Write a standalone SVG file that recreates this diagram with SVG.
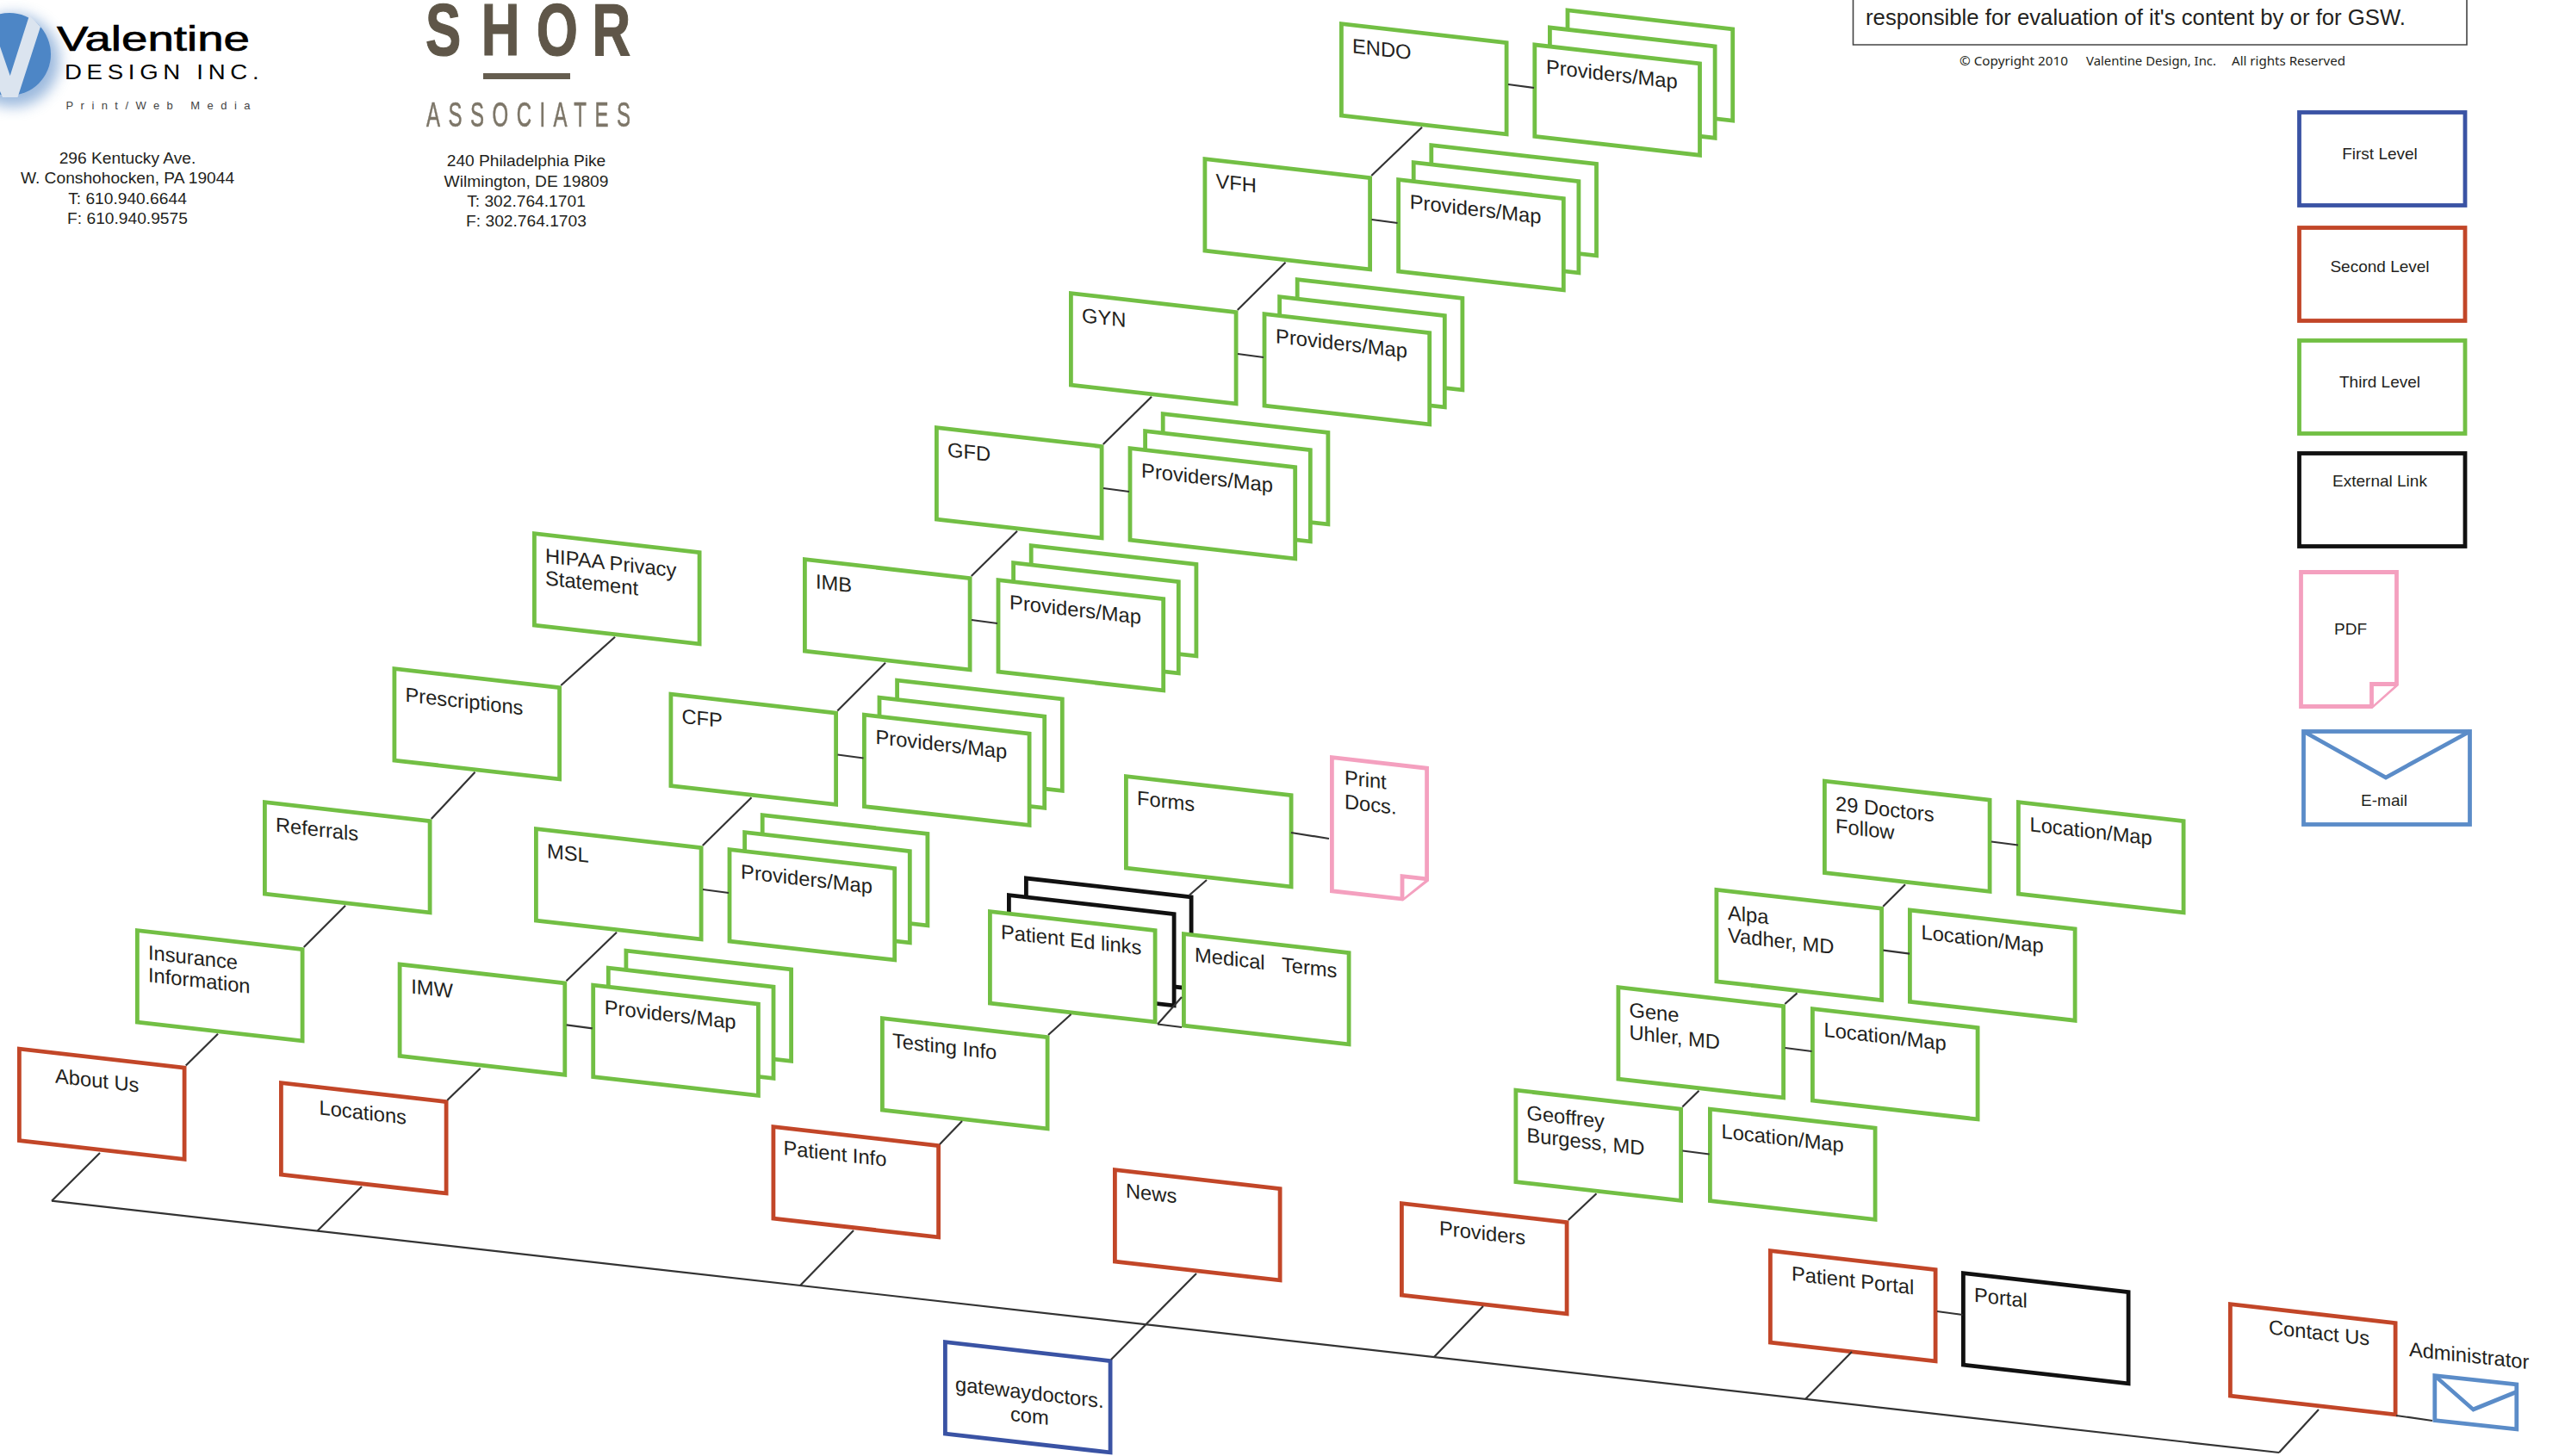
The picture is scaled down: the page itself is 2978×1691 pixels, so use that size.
<svg xmlns="http://www.w3.org/2000/svg" width="2978" height="1691" viewBox="0 0 2978 1691">
<style>
text{font-family:"Liberation Sans",Arial,sans-serif;fill:#231f20}
.t{font-size:23.7px}
.s{font-size:19px;text-anchor:middle}
.a{font-size:19.2px;text-anchor:middle}
.c{font-family:"Noto Sans","Liberation Sans",sans-serif;font-size:15px}
.g{stroke:#72bf44}.r{stroke:#c24628}.b{stroke:#3a53a4}.k{stroke:#111}.p{stroke:#f4a0bf}.e{stroke:#5b8cc8}
.sh{fill:#fff;stroke-width:4.8;stroke-miterlimit:10}
#connectors line{stroke:#333;stroke-width:2.2}
</style>
<defs>
<rect id="box" class="sh" x="2.4" y="2.4" width="191.7" height="106.4"/>
<g id="stack" class="g"><use href="#box" x="38.2" y="-44.4"/><use href="#box" x="17.6" y="-22"/><use href="#box"/></g>
<filter id="soft" x="-40%" y="-40%" width="180%" height="180%"><feGaussianBlur stdDeviation="8"/></filter>
<filter id="blur"><feGaussianBlur stdDeviation=".7"/></filter>
</defs>
<rect width="2978" height="1691" fill="#fff"/>

<g id="logo-valentine">
<circle cx="15" cy="70" r="54" fill="#5b8cc8" opacity=".6" filter="url(#soft)"/>
<circle cx="11" cy="63" r="48" fill="#4d86c6"/>
<polygon points="34,18 47,31 20.5,113 3,113 0,106 0,54 11.7,88" fill="#dbe4ef"/>
<text x="66" y="59" font-size="41" textLength="224" lengthAdjust="spacingAndGlyphs" stroke="#000" stroke-width=".7" style="fill:#000">Valentine</text>
<text transform="scale(1.2,1)" x="62.5" y="92" font-size="23" textLength="188" style="fill:#000">DESIGN INC.</text>
<text x="76.5" y="127" font-size="13" textLength="214" style="fill:#444">Print/Web  Media</text>
<text class="a" x="148" y="190">296 Kentucky Ave.</text>
<text class="a" x="148" y="213">W. Conshohocken, PA 19044</text>
<text class="a" x="148" y="237">T: 610.940.6644</text>
<text class="a" x="148" y="260">F: 610.940.9575</text>
</g>

<g id="logo-shor">
<text transform="scale(.72,1)" x="686 776 865 955" y="64" font-size="86" font-weight="bold" stroke="#5e5748" stroke-width="1.2" filter="url(#blur)" style="fill:#5e5748">SHOR</text>
<rect x="561" y="85" width="101" height="7" fill="#655d4f"/>
<text transform="scale(.6,1)" x="825" y="147" font-size="40" textLength="395" stroke="#7d7668" stroke-width=".6" filter="url(#blur)" style="fill:#7d7668">ASSOCIATES</text>
<text class="a" x="611" y="193">240 Philadelphia Pike</text>
<text class="a" x="611" y="217">Wilmington, DE 19809</text>
<text class="a" x="611" y="240">T: 302.764.1701</text>
<text class="a" x="611" y="263">F: 302.764.1703</text>
</g>

<g id="disclaimer">
<path d="M2151.5 -5V52H2864V-5" fill="#fff" stroke="#444" stroke-width="1.6"/>
<text x="2166" y="29" font-size="26" textLength="627" lengthAdjust="spacingAndGlyphs">responsible for evaluation of it's content by or for GSW.</text>
<text class="c" x="2275" y="76" textLength="126" lengthAdjust="spacingAndGlyphs">© Copyright 2010</text>
<text class="c" x="2422" y="76" textLength="151" lengthAdjust="spacingAndGlyphs">Valentine Design, Inc.</text>
<text class="c" x="2591" y="76" textLength="132" lengthAdjust="spacingAndGlyphs">All rights Reserved</text>
</g>

<g id="legend">
<g id="legend-first"><rect class="sh b" x="2669.5" y="130.5" width="192.5" height="108"/><text class="s" x="2763" y="185">First Level</text></g>
<g id="legend-second"><rect class="sh r" x="2669.5" y="264.5" width="192.5" height="108"/><text class="s" x="2763" y="316">Second Level</text></g>
<g id="legend-third"><rect class="sh g" x="2669.5" y="395.5" width="192.5" height="108"/><text class="s" x="2763" y="450">Third Level</text></g>
<g id="legend-external"><rect class="sh k" x="2669.5" y="526.5" width="192.5" height="108"/><text class="s" x="2763" y="565">External Link</text></g>
<g id="legend-pdf"><path class="sh p" d="M2671.5 664.5H2782.5V795L2753.5 820.5H2671.5Z"/><path class="sh p" d="M2753.5 820.5V794.5H2782.5"/><text class="s" x="2729" y="737">PDF</text></g>
<g id="legend-email"><rect class="sh e" x="2674.5" y="849.5" width="193" height="108"/><path d="M2674.5 849.5L2770 903L2867.5 849.5" fill="none" class="e" stroke-width="4.8"/><text class="s" x="2768" y="936">E-mail</text></g>
</g>

<g id="nodes">
<g id="endo" transform="matrix(1,.114,0,1,1555,25)"><use href="#box" class="g"/><text class="t" x="15" y="34.5">ENDO</text></g>
<g id="endo-providers" transform="matrix(1,.114,0,1,1779.4,49.3)"><use href="#stack"/><text class="t" x="15.5" y="34.5">Providers/Map</text></g>
<g id="vfh" transform="matrix(1,.114,0,1,1396.5,182)"><use href="#box" class="g"/><text class="t" x="15" y="34.5">VFH</text></g>
<g id="vfh-providers" transform="matrix(1,.114,0,1,1621.2,206)"><use href="#stack"/><text class="t" x="15.5" y="34.5">Providers/Map</text></g>
<g id="gyn" transform="matrix(1,.114,0,1,1241,338)"><use href="#box" class="g"/><text class="t" x="15" y="34.5">GYN</text></g>
<g id="gyn-providers" transform="matrix(1,.114,0,1,1465.6,362)"><use href="#stack"/><text class="t" x="15.5" y="34.5">Providers/Map</text></g>
<g id="gfd" transform="matrix(1,.114,0,1,1085,494)"><use href="#box" class="g"/><text class="t" x="15" y="34.5">GFD</text></g>
<g id="gfd-providers" transform="matrix(1,.114,0,1,1309.6,518)"><use href="#stack"/><text class="t" x="15.5" y="34.5">Providers/Map</text></g>
<g id="imb" transform="matrix(1,.114,0,1,932,647)"><use href="#box" class="g"/><text class="t" x="15" y="34.5">IMB</text></g>
<g id="imb-providers" transform="matrix(1,.114,0,1,1156.6,671)"><use href="#stack"/><text class="t" x="15.5" y="34.5">Providers/Map</text></g>
<g id="cfp" transform="matrix(1,.114,0,1,776.5,803.5)"><use href="#box" class="g"/><text class="t" x="15" y="34.5">CFP</text></g>
<g id="cfp-providers" transform="matrix(1,.114,0,1,1001,827.5)"><use href="#stack"/><text class="t" x="15.5" y="34.5">Providers/Map</text></g>
<g id="msl" transform="matrix(1,.114,0,1,620,960)"><use href="#box" class="g"/><text class="t" x="15" y="34.5">MSL</text></g>
<g id="msl-providers" transform="matrix(1,.114,0,1,844.6,984)"><use href="#stack"/><text class="t" x="15.5" y="34.5">Providers/Map</text></g>
<g id="imw" transform="matrix(1,.114,0,1,461.7,1117.3)"><use href="#box" class="g"/><text class="t" x="15.5" y="34.5">IMW</text></g>
<g id="imw-providers" transform="matrix(1,.114,0,1,686.3,1141.5)"><use href="#stack"/><text class="t" x="15.5" y="34.5">Providers/Map</text></g>

<g id="hipaa" transform="matrix(1,.114,0,1,618,617)"><use href="#box" class="g"/><text class="t" x="15" y="34.5">HIPAA Privacy<tspan x="15" dy="26">Statement</tspan></text></g>
<g id="prescriptions" transform="matrix(1,.114,0,1,455.5,774)"><use href="#box" class="g"/><text class="t" x="15" y="39">Prescriptions</text></g>
<g id="referrals" transform="matrix(1,.114,0,1,305,929)"><use href="#box" class="g"/><text class="t" x="15" y="35">Referrals</text></g>
<g id="insurance" transform="matrix(1,.114,0,1,157,1078)"><use href="#box" class="g"/><text class="t" x="15" y="34.5">Insurance<tspan x="15" dy="26">Information</tspan></text></g>
<g id="about-us" transform="matrix(1,.114,0,1,20,1215.5)"><use href="#box" class="r"/><text class="t" x="44" y="37">About Us</text></g>
<g id="locations" transform="matrix(1,.114,0,1,324,1255)"><use href="#box" class="r"/><text class="t" x="46.5" y="34">Locations</text></g>

<g id="forms" transform="matrix(1,.114,0,1,1305,899)"><use href="#box" class="g"/><text class="t" x="15" y="34">Forms</text></g>
<g id="print-docs" transform="matrix(1,.114,0,1,1544,877)"><path class="sh p" d="M2.4 2.4H112.6V132L84 157.5H2.4Z"/><path class="sh p" d="M84 157.5V131H112.6"/><text class="t" x="17" y="32">Print<tspan x="17" dy="28">Docs.</tspan></text></g>
<g id="patient-ed" transform="matrix(1,.114,0,1,1147,1056)"><use href="#box" class="k" x="42" y="-43.5"/><use href="#box" class="k" x="22" y="-21.5"/><use href="#box" class="g"/><text class="t" x="15" y="32.5">Patient Ed links</text></g>
<g id="medical-terms" transform="matrix(1,.114,0,1,1372,1082)"><use href="#box" class="g"/><text class="t" x="15" y="33" xml:space="preserve">Medical   Terms</text></g>
<g id="testing-info" transform="matrix(1,.114,0,1,1022,1180)"><use href="#box" class="g"/><text class="t" x="14" y="35">Testing Info</text></g>
<g id="patient-info" transform="matrix(1,.114,0,1,895.5,1306)"><use href="#box" class="r"/><text class="t" x="14" y="33.5">Patient Info</text></g>
<g id="news" transform="matrix(1,.114,0,1,1292,1356)"><use href="#box" class="r"/><text class="t" x="15" y="33">News</text></g>
<g id="gatewaydoctors" transform="matrix(1,.114,0,1,1095,1556)"><use href="#box" class="b"/><text class="t" x="14" y="58">gatewaydoctors.<tspan x="78" dy="27">com</tspan></text></g>

<g id="doctors-follow" transform="matrix(1,.114,0,1,2116,904.5)"><use href="#box" class="g"/><text class="t" x="15" y="35">29 Doctors<tspan x="15" dy="26">Follow</tspan></text></g>
<g id="doctors-location" transform="matrix(1,.114,0,1,2341,929)"><use href="#box" class="g"/><text class="t" x="15.5" y="34.5">Location/Map</text></g>
<g id="alpa" transform="matrix(1,.114,0,1,1990.5,1030.7)"><use href="#box" class="g"/><text class="t" x="15.5" y="35.5">Alpa<tspan x="15.5" dy="26">Vadher, MD</tspan></text></g>
<g id="alpa-location" transform="matrix(1,.114,0,1,2215,1054.3)"><use href="#box" class="g"/><text class="t" x="15.5" y="34.5">Location/Map</text></g>
<g id="gene" transform="matrix(1,.114,0,1,1876.5,1144)"><use href="#box" class="g"/><text class="t" x="15" y="35">Gene<tspan x="15" dy="26">Uhler, MD</tspan></text></g>
<g id="gene-location" transform="matrix(1,.114,0,1,2102,1169)"><use href="#box" class="g"/><text class="t" x="15.5" y="33">Location/Map</text></g>
<g id="geoffrey" transform="matrix(1,.114,0,1,1757.5,1263.5)"><use href="#box" class="g"/><text class="t" x="15" y="35">Geoffrey<tspan x="15" dy="26">Burgess, MD</tspan></text></g>
<g id="geoffrey-location" transform="matrix(1,.114,0,1,1983,1285.5)"><use href="#box" class="g"/><text class="t" x="15.5" y="34.5">Location/Map</text></g>
<g id="providers" transform="matrix(1,.114,0,1,1625,1395)"><use href="#box" class="r"/><text class="t" x="46" y="34">Providers</text></g>
<g id="patient-portal" transform="matrix(1,.114,0,1,2053,1450)"><use href="#box" class="r"/><text class="t" x="27" y="34">Patient Portal</text></g>
<g id="portal" transform="matrix(1,.114,0,1,2277,1476)"><use href="#box" class="k"/><text class="t" x="15" y="34">Portal</text></g>
<g id="contact-us" transform="matrix(1,.114,0,1,2587,1512)"><use href="#box" class="r"/><text class="t" x="47" y="32">Contact Us</text></g>
<g id="administrator" transform="matrix(1,.107,0,1,2824.4,1595)"><rect class="sh e" x="2.4" y="2.4" width="95" height="52"/><path d="M2.4 2.4L47 37L97.4 11" fill="none" class="e" stroke-width="4.8"/><text class="t" x="-27.5" y="-17">Administrator</text></g>
</g>

<g id="connectors">
<line x1="60" y1="1394.7" x2="2646" y2="1687"/>
<line x1="116" y1="1339" x2="60" y2="1394.7"/>
<line x1="420" y1="1378" x2="368.5" y2="1429.5"/>
<line x1="991" y1="1429" x2="929" y2="1493"/>
<line x1="1722" y1="1517" x2="1665" y2="1576"/>
<line x1="2150" y1="1570" x2="2096" y2="1625"/>
<line x1="2692" y1="1637" x2="2646" y2="1687"/>
<line x1="1389" y1="1479" x2="1290" y2="1579"/>
<line x1="1651" y1="147.7" x2="1592.3" y2="204"/>
<line x1="1492.5" y1="304.7" x2="1436.8" y2="360"/>
<line x1="1337" y1="460.7" x2="1280.8" y2="516"/>
<line x1="1181" y1="616.7" x2="1127.8" y2="669"/>
<line x1="1028" y1="769.7" x2="972.3" y2="825.5"/>
<line x1="872.5" y1="926.2" x2="815.8" y2="982"/>
<line x1="716" y1="1082.7" x2="657.5" y2="1139.3"/>
<line x1="557.7" y1="1240.7" x2="519.3" y2="1277.7"/>
<line x1="1751" y1="98" x2="1781" y2="102"/>
<line x1="1592.5" y1="255" x2="1622.5" y2="259"/>
<line x1="1437" y1="411" x2="1467" y2="415"/>
<line x1="1281" y1="567" x2="1311" y2="571"/>
<line x1="1128" y1="720" x2="1158" y2="724"/>
<line x1="972.5" y1="876.5" x2="1002.5" y2="880.5"/>
<line x1="816" y1="1033" x2="846" y2="1037"/>
<line x1="657.7" y1="1190.3" x2="687.7" y2="1194.3"/>
<line x1="2312" y1="977.5" x2="2343" y2="981.5"/>
<line x1="2186.5" y1="1103.7" x2="2217" y2="1107.7"/>
<line x1="2072.5" y1="1217" x2="2103.5" y2="1221"/>
<line x1="1953.5" y1="1336.5" x2="1984.5" y2="1340.5"/>
<line x1="2249" y1="1523" x2="2278.5" y2="1527"/>
<line x1="714" y1="739.7" x2="651.3" y2="796"/>
<line x1="551.5" y1="896.7" x2="500.8" y2="951"/>
<line x1="401" y1="1051.7" x2="352.8" y2="1100"/>
<line x1="253" y1="1200.7" x2="215.8" y2="1237.5"/>
<line x1="2212" y1="1027.2" x2="2186.3" y2="1052.7"/>
<line x1="2086.5" y1="1153.4" x2="2072.3" y2="1166"/>
<line x1="1972.5" y1="1266.7" x2="1953.3" y2="1285.5"/>
<line x1="1853.5" y1="1386.2" x2="1820.8" y2="1417"/>
<line x1="1401" y1="1022" x2="1381" y2="1039.5"/>
<line x1="1499" y1="967" x2="1543" y2="974"/>
<line x1="1372" y1="1158" x2="1344" y2="1189.5"/>
<line x1="1344" y1="1189.5" x2="1372" y2="1193"/>
<line x1="1243.5" y1="1178" x2="1217" y2="1202"/>
<line x1="1091" y1="1329" x2="1117" y2="1302"/>
<line x1="2782" y1="1644" x2="2824" y2="1650"/>
</g>
</svg>
